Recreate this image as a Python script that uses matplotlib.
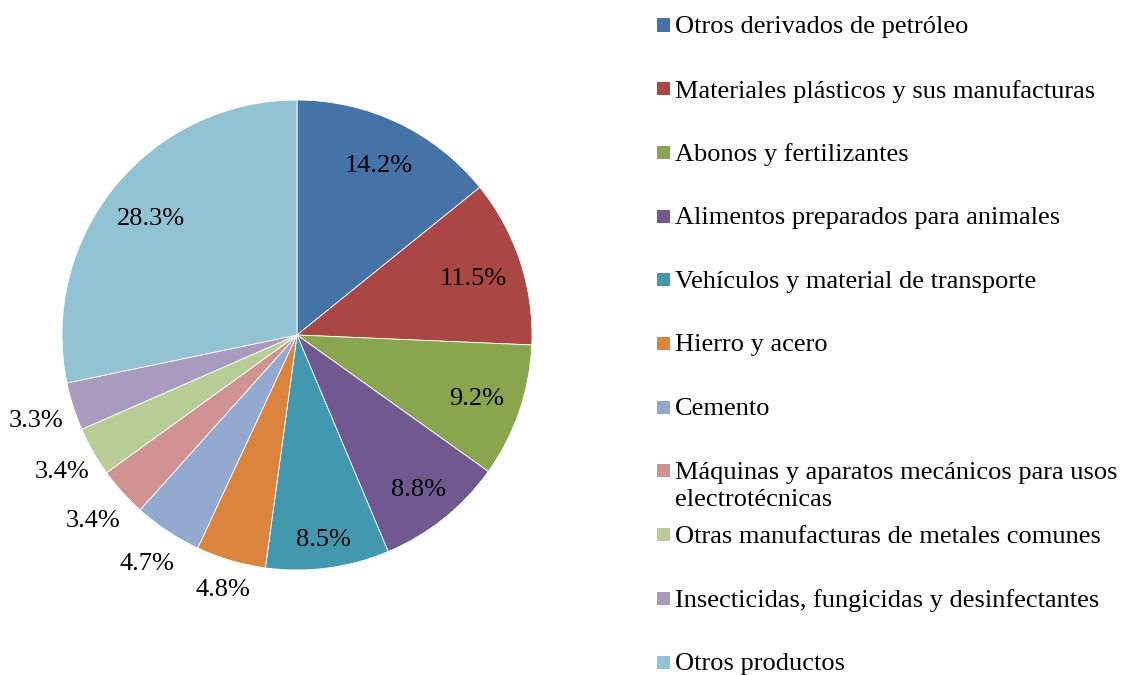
import numpy as np
import matplotlib.pyplot as plt
from matplotlib.patches import Rectangle

plt.rcParams['font.family'] = ['Liberation Serif', 'DejaVu Serif']

# Data
categories = [
    'Otros derivados de petróleo',
    'Materiales plásticos y sus manufacturas',
    'Abonos y fertilizantes',
    'Alimentos preparados para animales',
    'Vehículos y material de transporte',
    'Hierro y acero',
    'Cemento',
    'Máquinas y aparatos mecánicos para usos\nelectrotécnicas',
    'Otras manufacturas de metales comunes',
    'Insecticidas, fungicidas y desinfectantes',
    'Otros productos',
]
shares = [14.2, 11.5, 9.2, 8.8, 8.5, 4.8, 4.7, 3.4, 3.4, 3.3, 28.3]
colors = ['#4572A7', '#AA4643', '#89A54E', '#71588F', '#4198AF', '#DB843D',
          '#93A9CF', '#D19392', '#B9CD96', '#A99BBD', '#92C3D4']
# radial distance of each percentage label (fraction of radius)
label_r = [0.81, 0.79, 0.81, 0.83, 0.87, 1.12, 1.155, 1.165, 1.153, 1.164, 0.80]

W, H = 1123, 675
fig = plt.figure(figsize=(W / 100, H / 100), dpi=100)

# pie axes: centre (297, 335) px, radius 235 px
cx, cy, r = 297, 335, 235
ax = fig.add_axes([(cx - r) / W, (H - cy - r) / H, 2 * r / W, 2 * r / H])
wedges, _ = ax.pie(shares, colors=colors, startangle=90, counterclock=False,
                   radius=1.0, wedgeprops=dict(edgecolor='white', linewidth=0.6))
ax.set_xlim(-1, 1)
ax.set_ylim(-1, 1)
ax.set_aspect('equal')
ax.axis('off')

fs = 19
for w, v, d in zip(wedges, shares, label_r):
    ang = np.deg2rad((w.theta1 + w.theta2) / 2)
    ax.text(d * np.cos(ang), d * np.sin(ang), f'{v:.1f}%', ha='center',
            va='center_baseline', fontsize=fs, color='black', clip_on=False)

# legend, drawn by hand in pixel coordinates
y0, step = 25, 63.7
for i, (lab, c) in enumerate(zip(categories, colors)):
    y = y0 + i * step
    fig.patches.append(Rectangle((657 / W, 1 - (y + 6.5) / H), 13 / W, 13 / H,
                                 transform=fig.transFigure, facecolor=c, edgecolor='none'))
    fig.text(675 / W, 1 - (y - 9) / H, lab, ha='left', va='top', fontsize=fs,
             linespacing=1.3, color='black')

fig.savefig('out.png', dpi=100)
